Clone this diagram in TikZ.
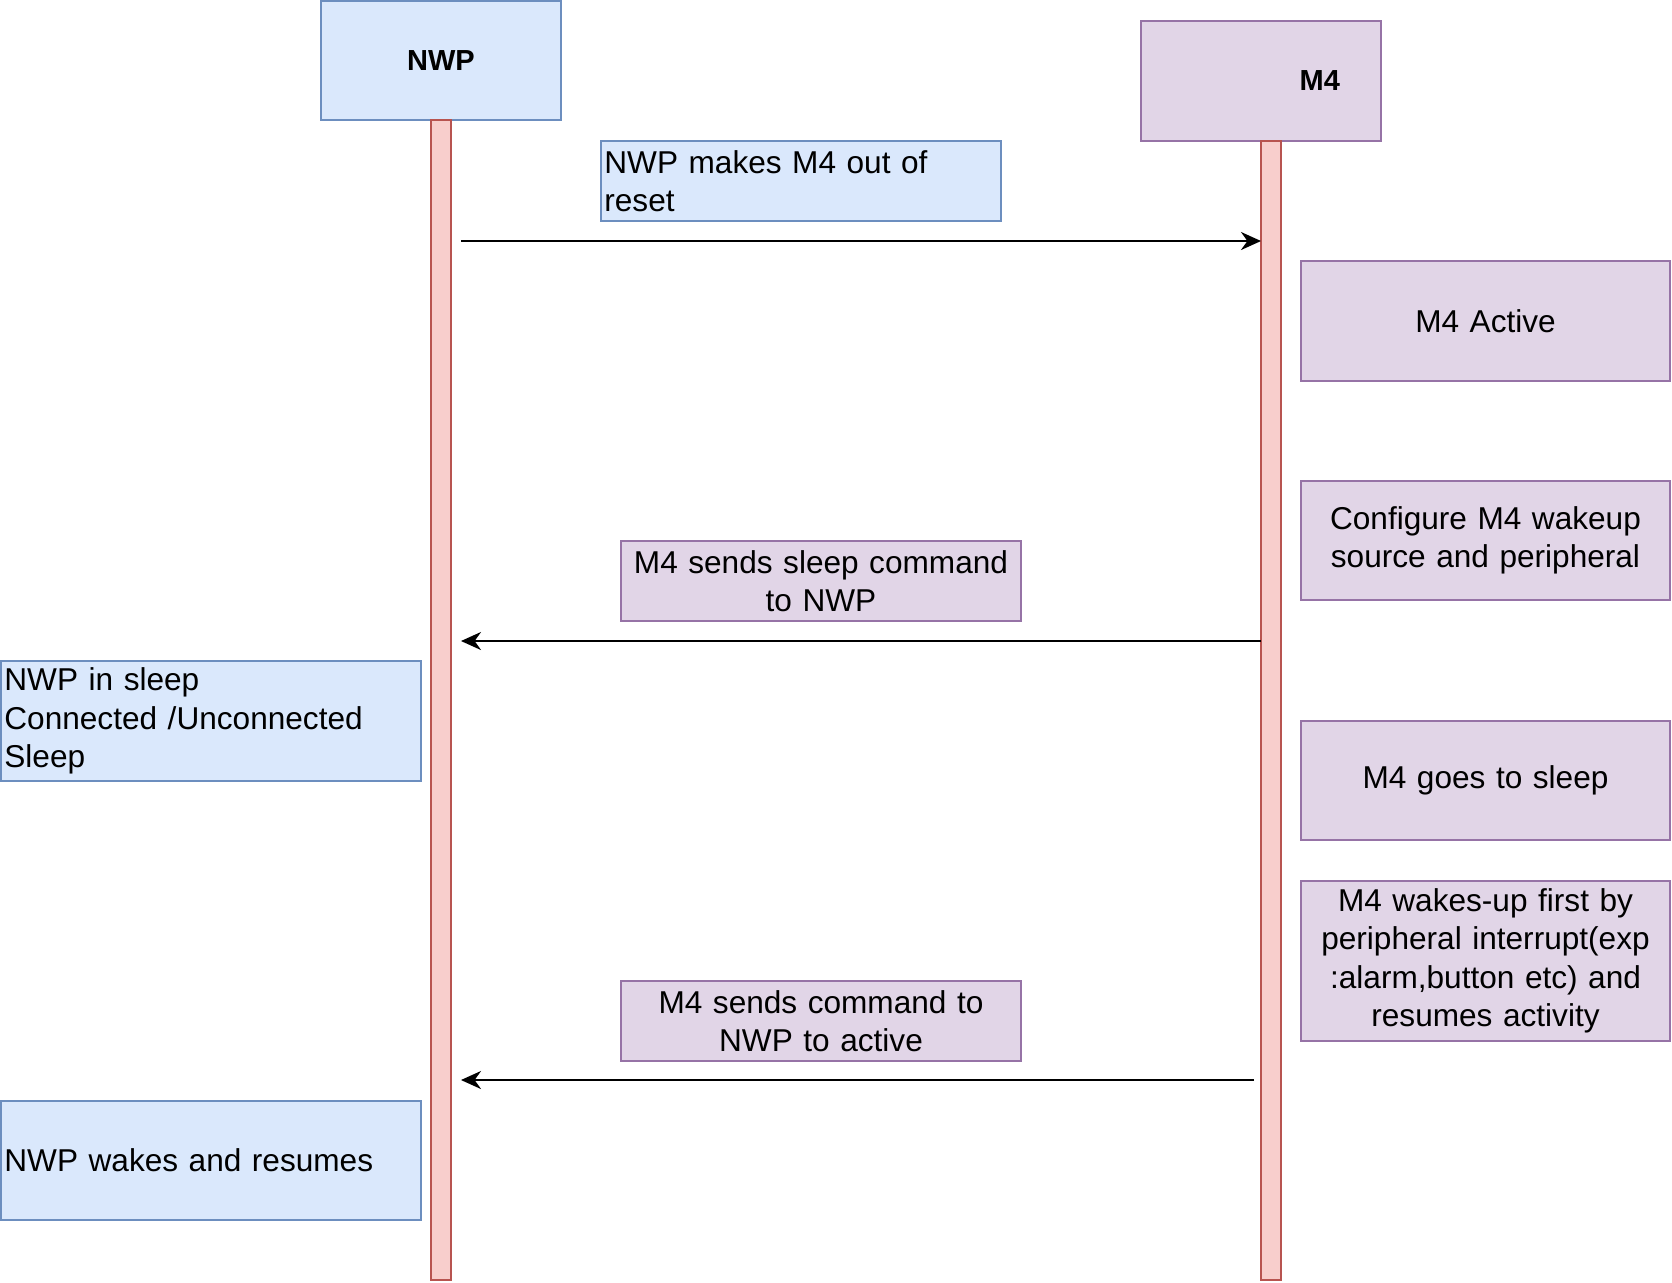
\documentclass[tikz,border=0pt]{standalone}
\usepackage{fontspec}
\setmainfont{Liberation Sans}
\usetikzlibrary{arrows.meta}
\definecolor{bluefill}{HTML}{DAE8FC}
\definecolor{bluedraw}{HTML}{6C8EBF}
\definecolor{purpfill}{HTML}{E1D5E7}
\definecolor{purpdraw}{HTML}{9673A6}
\definecolor{redfill}{HTML}{F8CECC}
\definecolor{reddraw}{HTML}{B85450}
\begin{document}
\begin{tikzpicture}[x=0.5pt,y=-0.5pt,
  every node/.style={font=\fontsize{15.8}{19.2}\selectfont, inner sep=0pt, outer sep=0pt},
  bluebox/.style={draw=bluedraw, fill=bluefill, line width=1pt, rectangle},
  purpbox/.style={draw=purpdraw, fill=purpfill, line width=1pt, rectangle},
  lifebar/.style={draw=reddraw, fill=redfill, line width=1pt, rectangle, minimum width=10pt},
  msg/.style={line width=1.1pt, -{Stealth[length=10pt,width=9pt,inset=3.2pt]}},
  head/.style={font=\fontsize{14.5}{17}\selectfont\bfseries},
  leftbox/.style={align=left, inner xsep=1.7pt},
  midbox/.style={align=center, inner xsep=1.7pt}
]
\useasboundingbox (0,0) rectangle (1672,1282);
% participants
\node[bluebox, head, minimum width=120pt, minimum height=59.5pt] (nwp) at (441,60.5) {NWP};
\node[purpbox, head, minimum width=120pt, minimum height=60pt, align=right, inner xsep=20.5pt, text width=79pt] (m4) at (1261,81) {M4};
% lifelines
\node[lifebar, minimum height=580pt, anchor=north] (nwplife) at (nwp.south) {};
\node[lifebar, minimum height=569.5pt, anchor=north west] (m4life) at (m4.south) {};
% message labels
\node[bluebox, leftbox, text width=196.6pt, minimum height=40pt] (msg1) at (801,181) {NWP makes M4 out of\\reset};
\node[purpbox, midbox, text width=196.6pt, minimum height=40pt] (msg2) at (821,581) {M4 sends sleep command\\to NWP};
\node[purpbox, midbox, text width=196.6pt, minimum height=40pt] (msg3) at (821,1021) {M4 sends command to\\NWP to active};
% M4 states
\node[purpbox, midbox, text width=181.1pt, minimum height=60pt] (active) at (1485.5,321) {M4 Active};
\node[purpbox, midbox, text width=181.1pt, minimum height=59.5pt] (config) at (1485.5,540.5) {Configure M4 wakeup\\source and peripheral};
\node[purpbox, midbox, text width=181.1pt, minimum height=59.5pt] (m4sleep) at (1485.5,780.5) {M4 goes to sleep};
\node[purpbox, midbox, text width=181.1pt, minimum height=80pt] (m4wake) at (1485.5,961) {M4 wakes-up first by\\peripheral interrupt(exp\\:alarm,button etc) and\\resumes activity};
% NWP states
\node[bluebox, leftbox, text width=206.6pt, minimum height=60pt] (nwpsleep) at (211,721) {NWP in sleep\\Connected /Unconnected\\Sleep};
\node[bluebox, leftbox, text width=206.6pt, minimum height=59.5pt] (nwpwake) at (211,1160.5) {NWP wakes and resumes};
% messages
\coordinate (a1) at (461,241);
\draw[msg] (a1) -- (m4life.west |- a1);
\coordinate (a2) at (461,641);
\draw[msg] (m4life.west |- a2) -- (a2);
\coordinate (a3s) at (1254,1080);
\coordinate (a3e) at (461,1080);
\draw[msg] (a3s) -- (a3e);
\end{tikzpicture}
\end{document}
